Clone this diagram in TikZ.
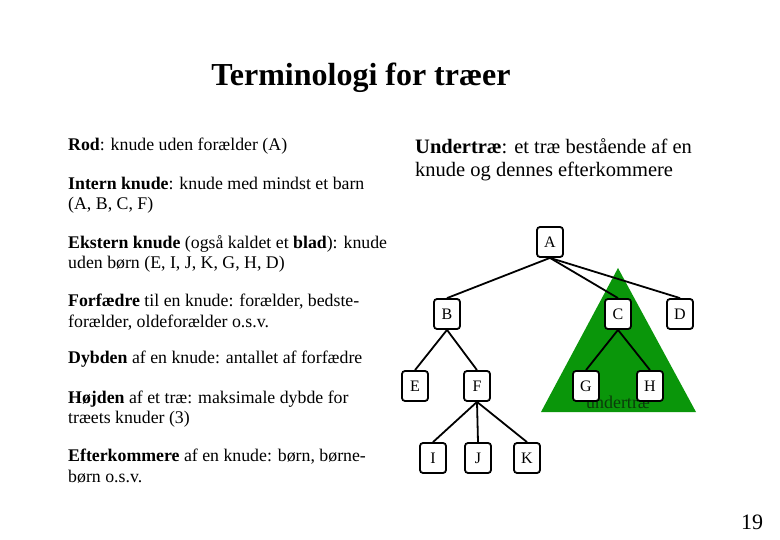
\documentclass[tikz,border=0pt]{standalone}
\usepackage{fontspec}
\setmainfont{Liberation Serif}
\begin{document}
\begin{tikzpicture}[x=1pt,y=-1pt,
  knot/.style={draw,line width=1.8pt,fill=white,rounded corners=3pt,minimum width=26pt,minimum height=30pt,inner sep=0pt,font=\fontsize{16}{16}\selectfont},
  txt/.style={anchor=west,align=left,inner sep=0pt,font=\fontsize{17.8}{20.5}\selectfont},
  edge/.style={line width=1.8pt}]
\useasboundingbox (0,0) rectangle (780,540);
\node[font=\fontsize{32}{34}\selectfont\bfseries] (title) at (361,78) {Terminologi for træer};
\node[txt] (t1) at (68,146) {\textbf{Rod}: knude uden forælder (A)};
\node[txt] (t2) at (68,195) {\textbf{Intern knude}: knude med mindst et barn\\(A, B, C, F)};
\node[txt] (t3) at (68,254) {\textbf{Ekstern knude} (også kaldet et \textbf{blad}): knude\\uden børn (E, I, J, K, G, H, D)};
\node[txt] (t4) at (68,312) {\textbf{Forfædre} til en knude: forælder, bedste-\\forælder, oldeforælder o.s.v.};
\node[txt] (t5) at (68,359) {\textbf{Dybden} af en knude: antallet af forfædre};
\node[txt] (t6) at (68,409) {\textbf{Højden} af et træ: maksimale dybde for\\træets knuder (3)};
\node[txt] (t7) at (68,466) {\textbf{Efterkommere} af en knude: børn, børne-\\børn o.s.v.};
\node[txt,font=\fontsize{20.5}{23}\selectfont] (t8) at (415,160) {\textbf{Undertræ}: et træ bestående af en\\knude og dennes efterkommere};
\fill[fill={rgb,255:red,10;green,150;blue,10}] (618,268) -- (541,412) -- (696,412) -- cycle;
\node[font=\fontsize{18}{18}\selectfont,text={rgb,255:red,10;green,60;blue,10}] (ut) at (618,402) {undertræ};
\node[knot] (A) at (550,242) {A};
\node[knot] (B) at (447,314) {B};
\node[knot] (C) at (618,314) {C};
\node[knot] (D) at (680,314) {D};
\node[knot] (E) at (415,386) {E};
\node[knot] (F) at (477,386) {F};
\node[knot] (G) at (586,386) {G};
\node[knot] (H) at (650,386) {H};
\node[knot] (I) at (433,458) {I};
\node[knot] (J) at (478,458) {J};
\node[knot] (K) at (527,458) {K};
\foreach \p/\c in {A/B,A/C,A/D,B/E,B/F,C/G,C/H,F/I,F/J,F/K}
  \draw[edge] (\p.south) -- (\c.north);
\node[font=\fontsize{22}{22}\selectfont] (pg) at (752,522) {19};
\end{tikzpicture}
\end{document}
